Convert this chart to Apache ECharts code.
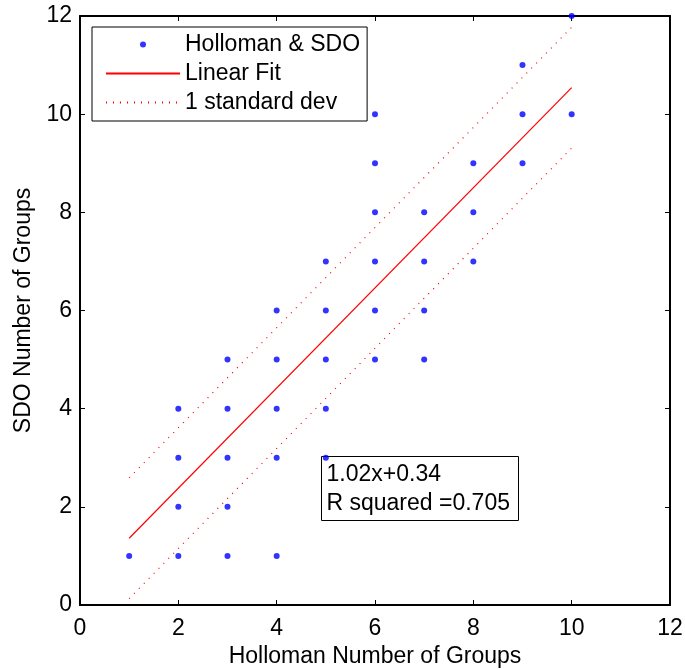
<!DOCTYPE html>
<html>
<head>
<meta charset="utf-8">
<script src="https://cdn.jsdelivr.net/npm/echarts@6/dist/echarts.min.js"></script>
<style>html,body{margin:0;padding:0;background:#fff;}#c{width:685px;height:669px;}</style>
</head>
<body>
<div id="c"></div>
<script>
// Observations: Holloman group count (x) vs SDO group count (y)
const hollomanX = [1, 2, 2, 2, 2, 3, 3, 3, 3, 3, 4, 4, 4, 4, 4, 5, 5, 5, 5, 5, 6, 6, 6, 6, 6, 6, 7, 7, 7, 7, 8, 8, 8, 9, 9, 9, 10, 10];
const sdoY =       [1, 1, 2, 3, 4, 1, 2, 3, 4, 5, 1, 3, 4, 5, 6, 3, 4, 5, 6, 7, 5, 6, 7, 8, 9, 10, 5, 6, 7, 8, 7, 8, 9, 9, 10, 11, 10, 12];
// Fit line and ±1 standard deviation lines (end points)
const fitX = [1, 10];
const fitY = [1.36, 10.54];
const upperY = [2.59, 11.77];
const lowerY = [0.13, 9.31];
const annotationLines = ['1.02x+0.34', 'R squared =0.705'];

const FONT = '"Liberation Sans", Arial, Helvetica, sans-serif';
const FS = 23;
const pts = hollomanX.map((x, i) => [x, sdoY[i]]);
const pair = (xs, ys) => xs.map((x, i) => [x, ys[i]]);

const axisCommon = {
  type: 'value', min: 0, max: 12, interval: 2,
  axisLine: { show: true, onZero: false, lineStyle: { color: '#000', width: 2 } },
  axisTick: { show: true, inside: true, length: 5, lineStyle: { color: '#000', width: 1 } },
  splitLine: { show: false }
};

// small dot centred in a 74x22 box, so the legend marker stays small
const dotIcon = 'path://M0,0M74,22M34,11a3,3 0 1,0 6,0a3,3 0 1,0 -6,0z';

const chart = echarts.init(document.getElementById('c'));
chart.setOption({
  backgroundColor: '#fff',
  animation: false,
  grid: { left: 80, top: 16, right: 15, bottom: 64, containLabel: false, outerBoundsMode: 'none' },
  xAxis: [
    Object.assign({}, axisCommon, {
      position: 'bottom',
      name: 'Holloman Number of Groups', nameLocation: 'middle', nameGap: 38,
      nameTextStyle: { fontFamily: FONT, fontSize: FS, color: '#000' },
      axisLabel: { margin: 12, fontFamily: FONT, fontSize: FS, color: '#000' }
    }),
    Object.assign({}, axisCommon, { position: 'top', axisLabel: { show: false } })
  ],
  yAxis: [
    Object.assign({}, axisCommon, {
      position: 'left',
      name: 'SDO Number of Groups', nameLocation: 'middle', nameGap: 45, nameRotate: 90,
      nameTextStyle: { fontFamily: FONT, fontSize: FS, color: '#000' },
      axisLabel: { margin: 8, fontFamily: FONT, fontSize: FS, color: '#000' }
    }),
    Object.assign({}, axisCommon, { position: 'right', axisLabel: { show: false } })
  ],
  legend: {
    orient: 'vertical', left: 92, top: 27,
    padding: [6, 7, 7, 13],
    itemWidth: 74, itemHeight: 22, itemGap: 6,
    backgroundColor: '#fff', borderColor: '#000', borderWidth: 1,
    textStyle: { fontFamily: FONT, fontSize: FS, color: '#000' },
    data: [
      { name: 'Holloman & SDO', icon: dotIcon },
      { name: 'Linear Fit', itemStyle: { opacity: 0 } },
      { name: '1 standard dev', itemStyle: { opacity: 0 } }
    ]
  },
  series: [
    {
      name: 'Holloman & SDO', type: 'scatter', data: pts,
      symbol: 'circle', symbolSize: 6, itemStyle: { color: '#0000ff' }, z: 5
    },
    {
      name: 'Linear Fit', type: 'line', data: pair(fitX, fitY),
      symbol: 'none', lineStyle: { color: '#ff0000', width: 1.2 }, itemStyle: { color: '#ff0000' }
    },
    {
      name: '1 standard dev', type: 'line', data: pair(fitX, upperY),
      symbol: 'none', lineStyle: { color: '#ff0000', width: 1.2, type: [1, 6] }, itemStyle: { color: '#ff0000' }
    },
    {
      name: '1 standard dev', type: 'line', data: pair(fitX, lowerY),
      symbol: 'none', lineStyle: { color: '#ff0000', width: 1.2, type: [1, 6] }, itemStyle: { color: '#ff0000' }
    }
  ],
  graphic: [
    {
      type: 'group', left: 321, top: 456, z: 10,
      children: [
        { type: 'rect', shape: { x: 0, y: 0, width: 197, height: 64 },
          style: { fill: '#fff', stroke: '#000', lineWidth: 1 } },
        { type: 'text', x: 5, y: 18, style: { text: annotationLines[0], font: FS + 'px ' + FONT, fill: '#000', verticalAlign: 'middle' } },
        { type: 'text', x: 5, y: 47, style: { text: annotationLines[1], font: FS + 'px ' + FONT, fill: '#000', verticalAlign: 'middle' } }
      ]
    }
  ]
});
</script>
</body>
</html>
